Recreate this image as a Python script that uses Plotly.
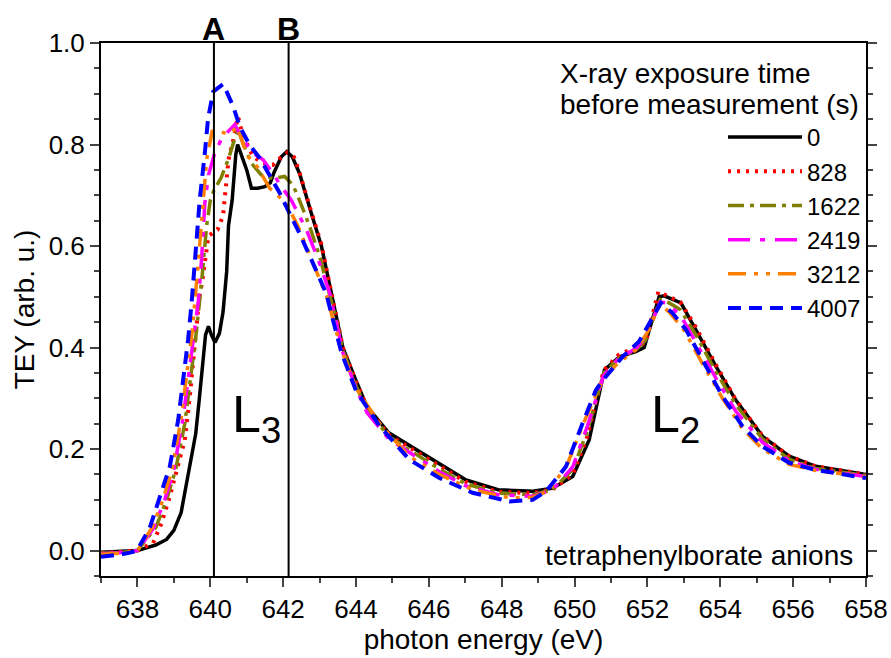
import plotly.graph_objects as go

# ---------------- data ----------------
series_names = ["0", "828", "1622", "2419", "3212", "4007"]

E_0 = [637.0, 637.5, 638.0, 638.5, 638.8, 639.0, 639.2, 639.3, 639.45, 639.6, 639.7, 639.8, 639.87, 639.95,
       640.03, 640.13, 640.25, 640.35, 640.45, 640.5, 640.6, 640.7, 640.75, 640.85, 641.0, 641.13, 641.3, 641.5,
       641.65, 641.75, 641.95, 642.1, 642.25, 642.45, 642.6, 642.8, 643.05, 643.4, 643.64, 644.0, 644.3, 644.9,
       645.65, 646.3, 647.0, 647.9, 648.85, 649.4, 649.95, 650.4, 650.82, 651.23, 651.68, 651.91, 652.32, 652.46,
       652.92, 653.33, 653.88, 654.42, 655.16, 655.89, 656.62, 658.0]
V_0 = [-0.003, -0.002, 0.0, 0.011, 0.022, 0.04, 0.075, 0.114, 0.17, 0.23, 0.30, 0.38, 0.425, 0.442,
       0.425, 0.41, 0.428, 0.47, 0.55, 0.64, 0.69, 0.78, 0.80, 0.78, 0.75, 0.714, 0.714, 0.717,
       0.725, 0.745, 0.776, 0.786, 0.776, 0.743, 0.704, 0.658, 0.60, 0.48, 0.40, 0.335, 0.284, 0.232,
       0.199, 0.169, 0.14, 0.12, 0.117, 0.123, 0.146, 0.218, 0.356, 0.382, 0.392, 0.40, 0.50, 0.502,
       0.488, 0.435, 0.363, 0.297, 0.225, 0.186, 0.166, 0.15]

E_828 = [637.0, 637.5, 638.0, 638.43, 638.66, 638.89, 639.12, 639.3, 639.44, 639.58, 639.62, 639.7, 639.78,
         639.85, 639.95, 640.05, 640.2, 640.35, 640.42, 640.5, 640.63, 640.76, 640.9, 641.18, 641.45, 641.72,
         641.91, 642.13, 642.3, 642.45, 642.6, 642.8, 643.05, 643.4, 643.64, 644.0, 644.3, 644.9, 645.65, 646.3,
         647.0, 647.9, 648.85, 649.4, 649.95, 650.35, 650.8, 651.2, 651.68, 651.95, 652.3, 652.45, 652.9, 653.33,
         653.88, 654.42, 655.16, 655.89, 656.62, 658.0]
V_828 = [-0.005, -0.003, 0.0, 0.015, 0.054, 0.107, 0.166, 0.218, 0.304, 0.409, 0.455, 0.50, 0.53,
         0.573, 0.62, 0.625, 0.632, 0.66, 0.71, 0.77, 0.809, 0.855, 0.816, 0.776, 0.763, 0.76,
         0.773, 0.785, 0.775, 0.745, 0.708, 0.662, 0.603, 0.482, 0.40, 0.333, 0.283, 0.228, 0.195, 0.165,
         0.136, 0.116, 0.113, 0.121, 0.15, 0.225, 0.355, 0.385, 0.40, 0.41, 0.51, 0.505, 0.49, 0.44,
         0.366, 0.298, 0.226, 0.186, 0.166, 0.15]

E_1622 = [637.0, 637.5, 638.0, 638.5, 638.8, 639.05, 639.3, 639.45, 639.6, 639.75, 639.9, 640.0, 640.1, 640.3,
          640.49, 640.63, 640.76, 640.9, 641.13, 641.4, 641.72, 642.04, 642.27, 642.45, 642.73, 643.0, 643.4,
          643.64, 644.0, 644.3, 644.9, 645.65, 646.3, 647.0, 647.9, 648.85, 649.4, 649.95, 650.35, 650.8, 651.2,
          651.68, 651.95, 652.35, 652.5, 652.9, 653.33, 653.88, 654.42, 655.16, 655.89, 656.62, 658.0]
V_1622 = [-0.005, -0.004, 0.0, 0.045, 0.10, 0.16, 0.25, 0.33, 0.42, 0.52, 0.64, 0.69, 0.71, 0.735,
          0.77, 0.802, 0.829, 0.802, 0.763, 0.74, 0.733, 0.737, 0.72, 0.69, 0.638, 0.58, 0.47,
          0.395, 0.325, 0.278, 0.225, 0.19, 0.16, 0.132, 0.113, 0.11, 0.12, 0.16, 0.235, 0.35, 0.378,
          0.395, 0.415, 0.495, 0.492, 0.475, 0.425, 0.352, 0.288, 0.22, 0.18, 0.162, 0.148]

E_2419 = [637.0, 637.5, 638.0, 638.45, 638.75, 639.0, 639.25, 639.4, 639.55, 639.67, 639.76, 639.85, 639.95,
          640.12, 640.3, 640.44, 640.67, 640.9, 641.18, 641.45, 641.72, 641.95, 642.22, 642.64, 643.0, 643.28,
          643.64, 644.0, 644.3, 644.9, 645.65, 646.3, 647.0, 647.9, 648.85, 649.4, 649.95, 650.35, 650.8, 651.2,
          651.68, 651.95, 652.35, 652.5, 652.9, 653.33, 653.88, 654.42, 655.16, 655.89, 656.62, 658.0]
V_2419 = [-0.006, -0.004, 0.0, 0.045, 0.10, 0.16, 0.26, 0.34, 0.42, 0.49, 0.573, 0.684, 0.74,
          0.783, 0.81, 0.822, 0.839, 0.809, 0.783, 0.77, 0.743, 0.717, 0.691, 0.632, 0.566, 0.507,
          0.39, 0.32, 0.272, 0.22, 0.185, 0.155, 0.128, 0.11, 0.107, 0.12, 0.165, 0.245, 0.345, 0.378,
          0.398, 0.42, 0.49, 0.488, 0.465, 0.41, 0.34, 0.275, 0.213, 0.177, 0.16, 0.146]

E_3212 = [637.0, 637.5, 638.0, 638.4, 638.7, 638.95, 639.2, 639.35, 639.5, 639.65, 639.8, 639.9, 640.05, 640.3,
          640.5, 640.75, 641.0, 641.3, 641.63, 642.09, 642.4, 642.8, 643.2, 643.6, 644.0, 644.65, 645.47, 646.29,
          647.2, 648.21, 648.85, 649.3, 649.8, 650.3, 650.8, 651.2, 651.68, 652.0, 652.35, 652.6, 653.0, 653.5,
          654.06, 654.61, 655.16, 655.89, 656.62, 658.0]
V_3212 = [-0.007, -0.005, 0.0, 0.045, 0.10, 0.16, 0.26, 0.34, 0.43, 0.55, 0.69, 0.77, 0.826, 0.825,
          0.82, 0.835, 0.78, 0.755, 0.714, 0.684, 0.64, 0.57, 0.50, 0.395, 0.32, 0.25, 0.185, 0.15,
          0.12, 0.104, 0.105, 0.118, 0.17, 0.26, 0.34, 0.37, 0.395, 0.43, 0.485, 0.47, 0.435, 0.37,
          0.30, 0.24, 0.20, 0.17, 0.158, 0.145]

E_4007 = [637.0, 637.52, 637.98, 638.34, 638.62, 638.89, 639.12, 639.26, 639.39, 639.49, 639.62, 639.71, 639.85,
          639.94, 640.08, 640.35, 640.45, 640.63, 640.81, 641.08, 641.36, 641.63, 641.91, 642.13, 642.45, 642.82,
          643.18, 643.6, 644.0, 644.65, 645.47, 646.29, 647.2, 648.21, 648.85, 649.22, 649.76, 650.22, 650.59,
          650.86, 651.32, 651.77, 652.05, 652.37, 652.69, 653.06, 653.51, 654.06, 654.61, 655.16, 655.89, 656.62,
          658.0]
V_4007 = [-0.012, -0.008, -0.001, 0.045, 0.107, 0.166, 0.258, 0.337, 0.415, 0.49, 0.599, 0.691, 0.783,
          0.852, 0.904, 0.919, 0.904, 0.875, 0.835, 0.799, 0.773, 0.74, 0.704, 0.671, 0.625, 0.566,
          0.507, 0.39, 0.315, 0.245, 0.179, 0.143, 0.114, 0.097, 0.10, 0.117, 0.165, 0.251, 0.317,
          0.343, 0.382, 0.412, 0.448, 0.488, 0.468, 0.435, 0.376, 0.304, 0.245, 0.205, 0.173, 0.159,
          0.143]

energies = [E_0, E_828, E_1622, E_2419, E_3212, E_4007]
values = [V_0, V_828, V_1622, V_2419, V_3212, V_4007]

marker_positions = [640.1, 642.15]
marker_labels = ["A", "B"]

legend_title_lines = ["X-ray exposure time", "before measurement (s)"]

x_range = [637, 658]
y_range = [-0.05, 1.0]

# ---------------- styles ----------------
colors = ["#000000", "#FF0000", "#808000", "#FF00FF", "#FF8000", "#0000FF"]
dashes = ["solid", "3px,6px", "16px,6px,4px,6px", "22px,10px,5px,10px",
          "18px,8px,4px,8px,4px,8px", "13px,8px"]
widths = [3.5, 4, 3.5, 3.5, 3.5, 4]

FONT = "Liberation Sans, Arial, sans-serif"

fig = go.Figure()
for name, e, v, c, d, w in zip(series_names, energies, values, colors, dashes, widths):
    fig.add_trace(go.Scatter(x=e, y=v, mode="lines", name=name,
                             line=dict(color=c, dash=d, width=w)))

for xp, lab in zip(marker_positions, marker_labels):
    fig.add_shape(type="line", xref="x", yref="paper", x0=xp, x1=xp, y0=0, y1=1,
                  line=dict(color="black", width=2))
    fig.add_annotation(x=xp, y=1.026, xref="x", yref="paper", text="<b>%s</b>" % lab,
                       showarrow=False, yanchor="middle",
                       font=dict(family=FONT, size=32, color="black"))

fig.add_annotation(x=640.55, y=0.33, xref="x", yref="y", xanchor="left", yanchor="top",
                   text="L<sub>3</sub>", showarrow=False,
                   font=dict(family=FONT, size=52, color="black"))
fig.add_annotation(x=652.05, y=0.33, xref="x", yref="y", xanchor="left", yanchor="top",
                   text="L<sub>2</sub>", showarrow=False,
                   font=dict(family=FONT, size=52, color="black"))
fig.add_annotation(x=657.7, y=-0.01, xref="x", yref="y", xanchor="right", yanchor="middle",
                   text="tetraphenylborate anions", showarrow=False,
                   font=dict(family=FONT, size=28, color="black"))
for i, line in enumerate(legend_title_lines):
    fig.add_annotation(x=0.597, y=1 - (73 + 32 * i - 43) / 533, xref="paper", yref="paper",
                       xanchor="left", yanchor="middle", align="left", text=line, showarrow=False,
                       font=dict(family=FONT, size=28, color="black"))

fig.update_layout(
    width=891, height=658,
    margin=dict(l=101, r=25, t=43, b=82, autoexpand=False),
    paper_bgcolor="white", plot_bgcolor="white",
    font=dict(family=FONT, size=25, color="black"),
    showlegend=True,
    legend=dict(x=1.0, y=0.865, xanchor="right", yanchor="top",
                bgcolor="rgba(0,0,0,0)", itemwidth=74, tracegroupgap=0,
                font=dict(family=FONT, size=24, color="black")),
    xaxis=dict(range=x_range, dtick=2, tick0=638, ticks="outside", ticklen=9, tickwidth=2,
               minor=dict(dtick=1, ticks="outside", ticklen=5, tickwidth=2),
               showline=True, linewidth=2, linecolor="black", mirror=True,
               showgrid=False, zeroline=False,
               title=dict(text="photon energy (eV)", font=dict(size=28), standoff=4),
               tickfont=dict(size=26)),
    xaxis2=dict(range=x_range, overlaying="x", side="top", anchor="y", dtick=1, tick0=637,
                ticks="inside", ticklen=7, tickwidth=2, showticklabels=False,
                showline=False, showgrid=False, zeroline=False),
    yaxis=dict(range=y_range, dtick=0.2, tick0=0, tickformat=".1f", ticks="outside", ticklen=9, tickwidth=2,
               minor=dict(dtick=0.05, tick0=0, ticks="outside", ticklen=5, tickwidth=2),
               showline=True, linewidth=2, linecolor="black", mirror="ticks",
               showgrid=False, zeroline=False,
               title=dict(text="TEY (arb. u.)", font=dict(size=28), standoff=6),
               tickfont=dict(size=26)),
)

fig.write_html("out.html")
